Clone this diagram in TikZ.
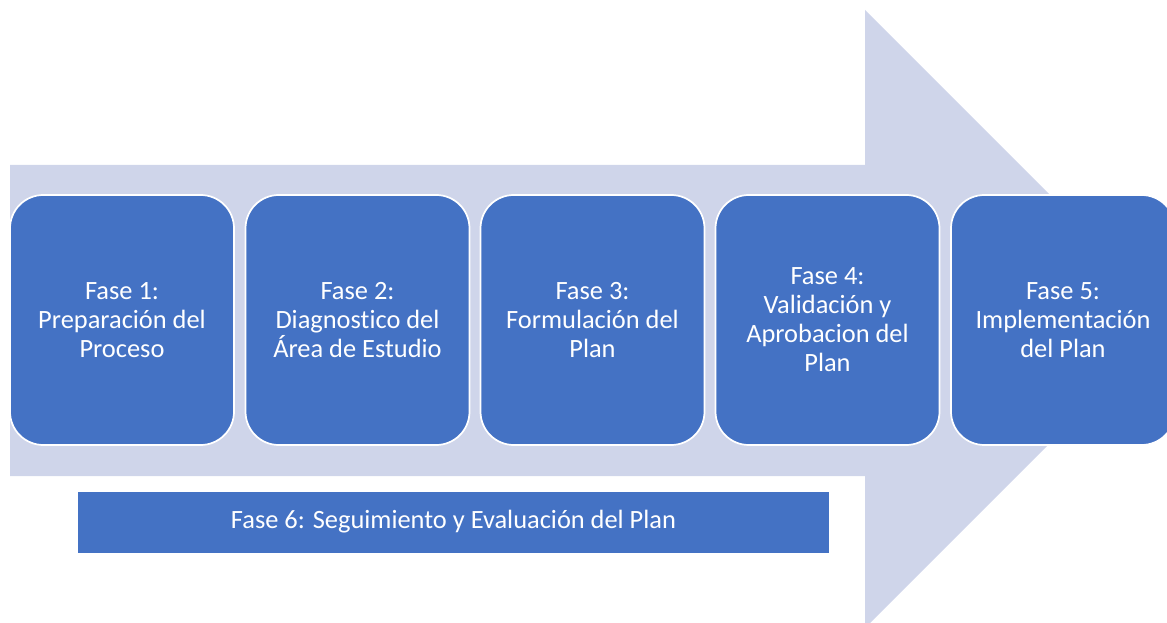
\documentclass[tikz,border=0pt]{standalone}
\usepackage{fontspec}
\setmainfont{Carlito}[Ligatures={NoCommon,NoContextual}]
\definecolor{arrowfill}{HTML}{CFD5EA}
\definecolor{boxfill}{HTML}{4472C4}
\begin{document}
\begin{tikzpicture}[x=0.75pt,y=-0.75pt,
  phasebox/.style={draw=white, line width=1.3pt, fill=boxfill, rounded corners=25pt,
    minimum width=224*0.75pt, minimum height=250*0.75pt, text=white, align=center,
    font=\fontsize{19.8pt}{21.8pt}\selectfont, inner sep=0pt},
  barbox/.style={fill=boxfill, draw=none, minimum width=751*0.75pt, minimum height=61*0.75pt,
    text=white, font=\fontsize{19.8pt}{21.8pt}\selectfont, inner sep=0pt}]
\useasboundingbox (0,0) rectangle (1167,623);
\clip (0,0) rectangle (1167,623);
% big arrow
\fill[arrowfill] (10,165) -- (865,165) -- (865,10) -- (1174,319) -- (865,628) -- (865,476) -- (10,476) -- cycle;
% phase boxes
\node[phasebox] (f1) at (122,320) {Fase 1:\\Preparación del\\Proceso};
\node[phasebox] (f2) at (357.5,320) {Fase 2:\\Diagnostico del\\Área de Estudio};
\node[phasebox] (f3) at (592.5,320) {Fase 3:\\Formulación del\\Plan};
\node[phasebox] (f4) at (827.5,320) {Fase 4:\\Validación y\\Aprobacion del\\Plan};
\node[phasebox] (f5) at (1063,320) {Fase 5:\\Implementación\\del Plan};
% bottom bar
\node[barbox] (f6) at (453.5,522) {Fase 6: Seguimiento y Evaluación del Plan};
\end{tikzpicture}
\end{document}
